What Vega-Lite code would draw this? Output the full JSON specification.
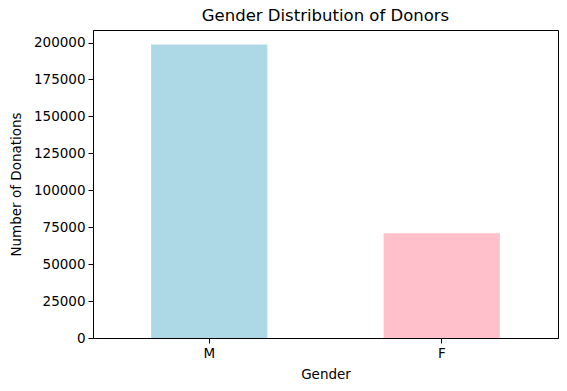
{
  "$schema": "https://vega.github.io/schema/vega-lite/v6.json",
  "autosize": {"type": "none"},
  "width": 465,
  "height": 308,
  "padding": {"left": 93, "top": 30, "right": 9, "bottom": 53},
  "background": "white",
  "title": {"text": "Gender Distribution of Donors", "font": "DejaVu Sans", "fontSize": 16.5, "fontWeight": "normal", "color": "black", "offset": 6},
  "data": {"values": [
    {"gender": "M", "count": 198600, "color": "#ADD8E6"},
    {"gender": "F", "count": 70900, "color": "#FFC0CB"}
  ]},
  "mark": {"type": "bar"},
  "encoding": {
    "x": {"field": "gender", "type": "nominal", "sort": ["M", "F"],
      "scale": {"paddingInner": 0.5, "paddingOuter": 0.25},
      "axis": {"title": "Gender", "labelAngle": 0, "titlePadding": 8}},
    "y": {"field": "count", "type": "quantitative",
      "scale": {"domain": [0, 208500], "nice": false},
      "axis": {"title": "Number of Donations", "values": [0, 25000, 50000, 75000, 100000, 125000, 150000, 175000, 200000], "format": "d", "grid": false, "titlePadding": 10}},
    "color": {"field": "color", "type": "nominal", "scale": null, "legend": null}
  },
  "config": {
    "view": {"stroke": "black", "strokeWidth": 1},
    "axis": {
      "domainColor": "black", "tickColor": "black", "tickSize": 5, "tickWidth": 1,
      "labelFont": "DejaVu Sans", "labelFontSize": 13.5, "labelColor": "black", "labelPadding": 3,
      "titleFont": "DejaVu Sans", "titleFontSize": 13.5, "titleFontWeight": "normal", "titleColor": "black",
      "labelFlush": false, "labelOverlap": false
    }
  }
}
